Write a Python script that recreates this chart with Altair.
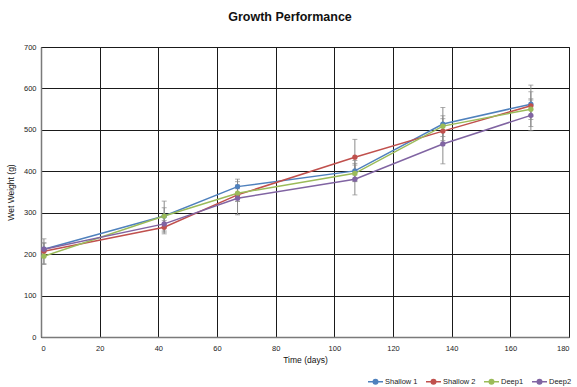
import altair as alt
import pandas as pd

days = [1, 42, 67, 107, 137, 167]
series = ["Shallow 1", "Shallow 2", "Deep1", "Deep2"]
colors = ["#4F81BD", "#C0504D", "#9BBB59", "#8064A2"]

shallow1 = [212, 292, 363, 401, 514, 562]
shallow2 = [207, 265, 343, 434, 497, 558]
deep1 = [195, 292, 347, 395, 509, 550]
deep2 = [212, 273, 335, 381, 466, 535]

sd_shallow1 = [15, 20, 18, 25, 40, 30]
sd_shallow2 = [30, 16, 15, 43, 30, 50]
sd_deep1 = [20, 36, 20, 20, 25, 25]
sd_deep2 = [15, 20, 40, 38, 48, 37]

rows = []
for name, vals, sds in zip(series, [shallow1, shallow2, deep1, deep2],
                           [sd_shallow1, sd_shallow2, sd_deep1, sd_deep2]):
    for d, v, s in zip(days, vals, sds):
        rows.append({"day": d, "weight": v, "series": name, "lo": v - s, "hi": v + s})
df = pd.DataFrame(rows)

FONT = "Liberation Sans"

xenc = alt.X("day:Q", scale=alt.Scale(domain=[0, 180], nice=False),
             axis=alt.Axis(values=list(range(0, 181, 20)), title="Time (days)"))
yenc = alt.Y("weight:Q", scale=alt.Scale(domain=[0, 700], nice=False),
             axis=alt.Axis(values=list(range(0, 701, 100)), title="Wet Weight (g)"))
color_scale = alt.Scale(domain=series, range=colors)

legend_path = "M-1,0L1,0M-0.3,0A0.3,0.3,0,1,1,0.3,0A0.3,0.3,0,1,1,-0.3,0Z"
legend = alt.Legend(
    title=None, orient="none", direction="horizontal",
    legendX=326, legendY=326, padding=0,
    symbolType=legend_path, symbolSize=225,
    symbolStrokeWidth=1.5, labelFontSize=7.5,
    labelFont=FONT, labelColor="#222", labelOffset=1,
    columnPadding=5, columns=4,
)
cenc = alt.Color("series:N", scale=color_scale, sort=series, legend=legend)

base = alt.Chart(df)

lines = base.mark_line(strokeWidth=1.5).encode(x=xenc, y=yenc, color=cenc)

err_rule = base.mark_rule(color="#8a8a8a", strokeWidth=1).encode(
    x="day:Q", y="lo:Q", y2="hi:Q"
)
cap_lo = base.mark_tick(color="#8a8a8a", orient="horizontal", size=5, thickness=1).encode(
    x="day:Q", y="lo:Q"
)
cap_hi = base.mark_tick(color="#8a8a8a", orient="horizontal", size=5, thickness=1).encode(
    x="day:Q", y="hi:Q"
)

points = base.mark_point(filled=True, size=28, opacity=1).encode(
    x="day:Q", y="weight:Q", color=cenc,
)

chart = alt.layer(lines, err_rule, cap_lo, cap_hi, points).properties(
    width=528, height=290,
    title=alt.TitleParams("Growth Performance", font=FONT, fontSize=12.5,
                          fontWeight="bold", color="#111", anchor="middle",
                          dx=-15, offset=20),
    autosize=alt.AutoSizeParams(type="none"),
    padding={"left": 41, "top": 47, "right": 8, "bottom": 50},
).configure_axis(
    grid=True, gridColor="#1a1a1a", gridWidth=1, gridOpacity=1,
    domainColor="#7a7a7a", domainWidth=1.5, ticks=False,
    labelFont=FONT, labelFontSize=7.5, labelColor="#222",
    titleFont=FONT, titleFontSize=8.5, titleFontWeight="normal", titleColor="#111",
).configure_axisX(
    labelPadding=7, titlePadding=4,
).configure_axisY(
    labelPadding=5, titlePadding=8,
).configure_view(
    stroke="#1a1a1a", strokeWidth=1,
)

chart.save("out.html", embed_options={"renderer": "svg", "actions": False})
